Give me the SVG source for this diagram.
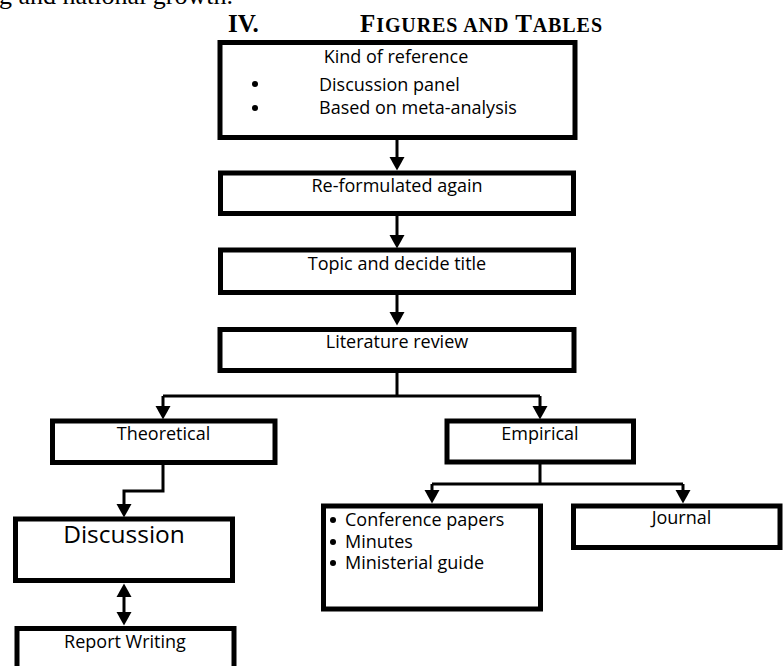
<svg xmlns="http://www.w3.org/2000/svg" width="783" height="666" viewBox="0 0 783 666">
<style>
.box{fill:#fff;stroke:#000;stroke-width:5}
.t{font-family:"Open Sans","Liberation Sans",sans-serif;font-size:18px;fill:#000}
.big{font-size:24.5px}
.c{text-anchor:middle}
.con{fill:none;stroke:#000;stroke-width:3}
.serif{font-family:"Liberation Serif","Times New Roman",serif;fill:#000}
</style>
<defs>
<marker id="ah" markerUnits="userSpaceOnUse" markerWidth="14" markerHeight="16" refX="0" refY="8" orient="auto-start-reverse" viewBox="0 0 14 16">
<path d="M0,0.5 L13.5,8 L0,15.5 Z" fill="#000"/>
</marker>
</defs>
<rect width="783" height="666" fill="#fff"/>
<text class="serif" x="-1" y="4" font-size="26" textLength="234" lengthAdjust="spacingAndGlyphs">g and national growth.</text>
<g id="heading">
<text class="serif" x="228" y="32" font-size="25" font-weight="bold">IV.</text>
<text class="serif" x="360" y="32" font-weight="bold" textLength="242" lengthAdjust="spacing"><tspan font-size="25">F</tspan><tspan font-size="20">IGURES AND </tspan><tspan font-size="25">T</tspan><tspan font-size="20">ABLES</tspan></text>
</g>
<g id="connectors">
<path class="con" d="M397,138 V157" marker-end="url(#ah)"/>
<path class="con" d="M397,215 V235" marker-end="url(#ah)"/>
<path class="con" d="M397,293 V312" marker-end="url(#ah)"/>
<path class="con" d="M397,372 V396 M163,396 H540"/>
<path class="con" d="M163,396 V406" marker-end="url(#ah)"/>
<path class="con" d="M540,396 V406" marker-end="url(#ah)"/>
<path class="con" d="M163,464 V491 H124 V504" marker-end="url(#ah)"/>
<path class="con" d="M124,597 V612" stroke-width="4" marker-start="url(#ah)" marker-end="url(#ah)"/>
<path class="con" d="M540,463 V484 M432,484 H683"/>
<path class="con" d="M432,484 V490" marker-end="url(#ah)"/>
<path class="con" d="M683,484 V490" marker-end="url(#ah)"/>
</g>
<g id="kind-of-reference">
<rect class="box" x="220" y="42.5" width="355" height="95"/>
<text class="t c" x="396" y="63">Kind of reference</text>
<circle cx="255" cy="84" r="3"/>
<circle cx="255" cy="108" r="3"/>
<text class="t" x="319" y="91">Discussion panel</text>
<text class="t" x="319" y="114">Based on meta-analysis</text>
</g>
<g id="re-formulated">
<rect class="box" x="220.5" y="173" width="353" height="40.5"/>
<text class="t c" x="397" y="192">Re-formulated again</text>
</g>
<g id="topic">
<rect class="box" x="220.5" y="250" width="353" height="42.5"/>
<text class="t c" x="397" y="270">Topic and decide title</text>
</g>
<g id="literature">
<rect class="box" x="220" y="329.5" width="354" height="41"/>
<text class="t c" x="397" y="348">Literature review</text>
</g>
<g id="theoretical">
<rect class="box" x="52.5" y="421" width="222.5" height="41.5"/>
<text class="t c" x="163.5" y="440">Theoretical</text>
</g>
<g id="empirical">
<rect class="box" x="447" y="421" width="186.5" height="41"/>
<text class="t c" x="540" y="440">Empirical</text>
</g>
<g id="discussion">
<rect class="box" x="15.5" y="519" width="217" height="61.5"/>
<text class="t big c" x="124" y="543">Discussion</text>
</g>
<g id="report-writing">
<rect class="box" x="17" y="628.5" width="217" height="60"/>
<text class="t c" x="125" y="648">Report Writing</text>
</g>
<g id="conference">
<rect class="box" x="323.5" y="506" width="217" height="103"/>
<circle cx="333" cy="520" r="3"/>
<circle cx="333" cy="542" r="3"/>
<circle cx="333" cy="563" r="3"/>
<text class="t" x="345" y="526">Conference papers</text>
<text class="t" x="345" y="548">Minutes</text>
<text class="t" x="345" y="569">Ministerial guide</text>
</g>
<g id="journal">
<rect class="box" x="573.5" y="506" width="206.5" height="41.5"/>
<text class="t c" x="681.5" y="524">Journal</text>
</g>
</svg>
